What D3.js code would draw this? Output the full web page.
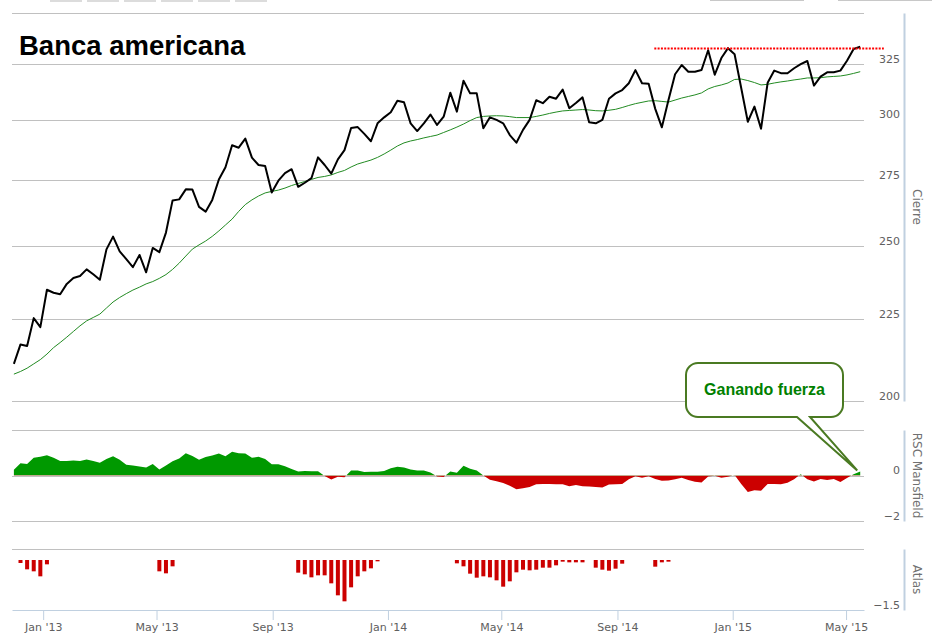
<!DOCTYPE html>
<html>
<head>
<meta charset="utf-8">
<script src="https://cdn.jsdelivr.net/npm/d3@7"></script>
<style>
body{margin:0;background:#fff}
svg{display:block}
</style>
</head>
<body>
<svg width="932" height="636"></svg>
<script>
// weekly closes, first week below
const firstWeek="2012-12-01"
const cierre=[211.0,217.0,216.5,225.4,222.5,234.8,233.8,233.3,236.8,238.8,
239.5,241.8,240.1,238.2,248.9,253.5,248.2,245.4,242.6,246.9,
240.8,249.4,247.9,255.0,267.1,267.5,271.4,271.3,264.6,262.8,
267.3,275.3,280.2,289.2,288.2,292.0,284.1,281.1,280.7,270.2,
274.8,277.8,279.4,272.4,274.0,275.8,284.2,281.1,277.6,283.4,
287.2,296.5,296.9,294.0,290.9,298.5,301.1,303.3,308.4,307.7,
298.5,295.2,298.5,302.3,297.8,301.4,312.0,303.6,317.4,311.7,
311.7,296.4,301.1,300.0,298.5,293.5,290.3,295.7,300.0,308.6,
307.3,310.2,309.3,313.4,305.1,307.4,309.9,299.0,298.5,300.0,
309.3,311.7,313.2,316.3,322.3,316.3,316.1,304.8,296.8,308.7,
320.4,324.7,321.6,321.6,322.4,331.7,320.2,328.0,332.7,329.8,
314.1,299.2,305.8,296.2,316.5,322.1,320.9,320.9,323.2,325.1,
326.6,315.2,319.3,321.3,321.3,322.1,326.7,332.3,333.4]
// moving average (green)
const media=[207.9,208.7,209.7,211.0,212.3,214.0,216.0,217.6,219.3,221.1,
222.9,224.5,225.6,226.7,228.7,230.7,232.2,233.5,234.7,235.7,
236.8,237.6,238.7,240.0,241.8,244.0,246.5,249.0,250.5,251.9,
253.6,255.6,257.8,260.0,262.9,265.5,267.3,268.8,270.0,270.6,
271.1,271.9,272.9,273.7,274.5,275.3,276.1,276.5,277.1,278.1,
278.9,280.3,281.5,282.3,283.1,284.2,285.6,287.2,288.9,290.2,
291.0,291.6,292.3,292.9,293.5,294.6,295.7,296.9,298.2,299.7,
301.0,301.5,301.7,301.8,301.7,301.4,301.0,301.0,301.0,301.5,
302.1,302.8,303.4,303.9,304.1,304.3,304.5,304.3,304.0,303.9,
304.2,304.6,305.4,306.3,307.1,307.7,308.3,308.4,308.1,307.8,
308.7,309.6,310.3,311.0,311.9,313.7,314.8,315.5,316.4,318.0,
318.2,317.5,316.6,315.5,315.8,316.4,316.9,317.3,317.8,318.2,
318.7,318.7,318.8,319.2,319.4,319.6,320.1,320.8,321.6]
const rsc=[0.25,0.54,0.51,0.78,0.82,0.89,0.78,0.64,0.64,0.66,
0.64,0.70,0.64,0.56,0.73,0.85,0.69,0.47,0.44,0.40,
0.35,0.51,0.26,0.44,0.63,0.75,0.98,0.86,0.69,0.81,
0.88,0.97,0.85,1.04,0.98,0.97,0.78,0.82,0.72,0.50,
0.50,0.41,0.29,0.18,0.20,0.19,0.19,-0.02,-0.18,-0.05,
-0.08,0.22,0.22,0.15,0.16,0.16,0.20,0.32,0.38,0.35,
0.26,0.22,0.22,0.13,-0.04,-0.07,0.18,0.12,0.43,0.30,
0.22,0.00,-0.19,-0.25,-0.33,-0.45,-0.60,-0.56,-0.51,-0.38,
-0.37,-0.37,-0.38,-0.38,-0.47,-0.42,-0.47,-0.48,-0.51,-0.53,
-0.40,-0.38,-0.37,-0.16,-0.03,-0.10,-0.03,-0.15,-0.23,-0.22,
-0.16,-0.10,-0.20,-0.28,-0.31,-0.04,-0.01,-0.10,-0.06,0.02,
-0.37,-0.73,-0.65,-0.67,-0.37,-0.37,-0.38,-0.32,-0.16,0.06,
-0.16,-0.26,-0.15,-0.20,-0.15,-0.29,-0.11,0.06,0.18]
// atlas only on some weeks (index into the weeks above)
const atlasWeeks=[1,2,3,4,5,22,23,24,43,44,45,46,47,48,49,50,51,52,53,54,55,
67,68,69,70,71,72,73,74,75,76,77,78,79,80,81,82,83,84,85,86,88,89,90,91,92,97,98,99]
const atlasVals=[-0.09,-0.28,-0.34,-0.49,-0.13,-0.34,-0.40,-0.19,
-0.38,-0.43,-0.52,-0.46,-0.46,-0.70,-1.06,-1.24,-0.82,-0.49,-0.34,-0.25,-0.04,
-0.10,-0.19,-0.41,-0.53,-0.49,-0.52,-0.61,-0.80,-0.64,-0.37,-0.29,-0.31,-0.29,-0.23,-0.23,-0.16,-0.05,-0.07,-0.07,-0.07,
-0.23,-0.29,-0.32,-0.26,-0.11,-0.20,-0.07,-0.05]

const cierreTicks=[200,225,250,275,300,325,350]
const rscTicks=[-2,0,2]
const atlasTicks=[-1.5]
const monthTicks=["2013-01-01","2013-05-01","2013-09-01","2014-01-01","2014-05-01","2014-09-01","2015-01-01","2015-05-01"]
const monthLabels=["Jan '13","May '13","Sep '13","Jan '14","May '14","Sep '14","Jan '15","May '15"]
const resistencia=332.5
const resDesde="2014-10-10", resHasta="2015-06-10"
const titulo="Banca americana"
const nota="Ganando fuerza"

const svg=d3.select("svg")
const parse=d3.timeParse("%Y-%m-%d")
const w0=parse(firstWeek)
const fechas=cierre.map((v,i)=>d3.timeDay.offset(w0,7*i))

const L=12,R=864,AX=904
const x=d3.scaleTime().domain([new Date(2012,10,29),new Date(2015,4,20)]).range([L,R])
const yC=d3.scaleLog().domain([200,350]).range([401,13])
const yR=d3.scaleLinear().domain([-2,2]).range([521,430])
const yA=d3.scaleLinear().domain([-1.5,0.33]).range([610,549])

const F="DejaVu Sans"
const grid="#C0C0C0", axc="#C0D0E0"

// bits of the range selector cut off at the top
const btn=[50,87,124,161,198,235]
btn.forEach(b=>svg.append("rect").attr("x",b).attr("y",0).attr("width",32).attr("height",2).attr("fill","#dcdcdc"))
svg.append("rect").attr("x",710).attr("y",0).attr("width",94).attr("height",1).attr("fill","#c8c8c8")
svg.append("rect").attr("x",838).attr("y",0).attr("width",94).attr("height",1).attr("fill","#c8c8c8")

// gridlines
const gl=(ticks,sc)=>{
svg.append("g").selectAll("line").data(ticks).join("line")
.attr("x1",L).attr("x2",R).attr("y1",d=>Math.round(sc(d))+0.5).attr("y2",d=>Math.round(sc(d))+0.5)
.attr("stroke",grid).attr("stroke-width",1)
}
gl(cierreTicks,yC)
gl(rscTicks,yR)
gl([yA.domain()[1]],yA)

// right axes, labels sit left of the line
const rAxis=(sc,ticks,title)=>{
let g=svg.append("g").attr("transform","translate("+AX+",0)")
.call(d3.axisLeft(sc).tickValues(ticks).tickSize(0).tickPadding(4).tickSizeOuter(0).tickFormat(d3.format("")))
g.select(".domain").attr("stroke",axc).attr("stroke-width",2)
g.selectAll("text").attr("dy",-2).attr("font-family",F).attr("font-size",11).attr("fill","#606060")
let r=sc.range()
svg.append("text").attr("transform","translate(913,"+((r[0]+r[1])/2)+") rotate(90)")
.attr("text-anchor","middle").attr("font-family",F).attr("font-size",12).attr("fill","#707070").text(title)
}
rAxis(yC,cierreTicks.filter(d=>d<350),"Cierre")
rAxis(yR,rscTicks.filter(d=>d<2),"RSC Mansfield")
rAxis(yA,atlasTicks,"Atlas")

// price + moving average
const pts=cierre.map((v,i)=>({d:fechas[i],c:v,m:media[i],r:rsc[i]}))
svg.append("path").datum(pts)
.attr("d",d3.line().x(p=>x(p.d)).y(p=>yC(p.m)))
.attr("fill","none").attr("stroke","#228B22").attr("stroke-width",1)
svg.append("path").datum(pts)
.attr("d",d3.line().x(p=>x(p.d)).y(p=>yC(p.c)))
.attr("fill","none").attr("stroke","#000").attr("stroke-width",2).attr("stroke-linejoin","round")

// resistance
svg.append("line")
.attr("x1",x(parse(resDesde))).attr("x2",x(parse(resHasta)))
.attr("y1",yC(resistencia)).attr("y2",yC(resistencia))
.attr("stroke","#ff0000").attr("stroke-width",2).attr("stroke-dasharray","2,1.3")

// RSC area, green above zero, red below
const z=yR(0)
const defs=svg.append("defs")
defs.append("clipPath").attr("id","up").append("rect").attr("x",0).attr("y",0).attr("width",932).attr("height",z)
defs.append("clipPath").attr("id","dn").append("rect").attr("x",0).attr("y",z).attr("width",932).attr("height",636-z)
const ar=d3.area().x(p=>x(p.d)).y0(z).y1(p=>yR(p.r))
svg.append("path").datum(pts).attr("d",ar).attr("fill","#009900").attr("clip-path","url(#up)")
svg.append("path").datum(pts).attr("d",ar).attr("fill","#cc0000").attr("clip-path","url(#dn)")

// atlas columns
svg.append("g").selectAll("rect").data(atlasWeeks).join("rect")
.attr("x",(k)=>x(fechas[k])-2).attr("width",4)
.attr("y",yA(0)).attr("height",(k,i)=>yA(atlasVals[i])-yA(0))
.attr("fill","#cc0000")

// bottom axis
const xa=svg.append("g").attr("transform","translate(0,610)")
.call(d3.axisBottom(x).tickValues(monthTicks.map(parse)).tickFormat((d,i)=>monthLabels[i]).tickSize(10).tickSizeOuter(0))
xa.select(".domain").attr("stroke",axc)
xa.selectAll(".tick line").attr("stroke",axc)
xa.selectAll("text").attr("font-family",F).attr("font-size",11).attr("fill","#606060")

// title
svg.append("text").attr("x",19).attr("y",55).attr("font-family","Liberation Sans, Arial").attr("font-weight","bold")
.attr("font-size",27.5).attr("fill","#000").text(titulo)

// callout pointing at the last RSC value
const bx=686,by=363,bw=157,bh=54,rr=12
const tip=[x(fechas[fechas.length-1])-3,yR(rsc[rsc.length-1])-1]
const t1=797,t2=810
const cp="M"+(bx+rr)+","+by+"H"+(bx+bw-rr)+"A"+rr+","+rr+" 0 0 1 "+(bx+bw)+","+(by+rr)
+"V"+(by+bh-rr)+"A"+rr+","+rr+" 0 0 1 "+(bx+bw-rr)+","+(by+bh)
+"H"+t2+"L"+tip[0]+","+tip[1]+"L"+t1+","+(by+bh)
+"H"+(bx+rr)+"A"+rr+","+rr+" 0 0 1 "+bx+","+(by+bh-rr)
+"V"+(by+rr)+"A"+rr+","+rr+" 0 0 1 "+(bx+rr)+","+by+"Z"
svg.append("path").attr("d",cp).attr("fill","#fff").attr("stroke","#4a7a22").attr("stroke-width",2)
svg.append("text").attr("x",bx+bw/2).attr("y",395).attr("text-anchor","middle")
.attr("font-family","Liberation Sans, Arial").attr("font-weight","bold").attr("font-size",16)
.attr("fill","#008000").text(nota)
</script>
</body>
</html>
